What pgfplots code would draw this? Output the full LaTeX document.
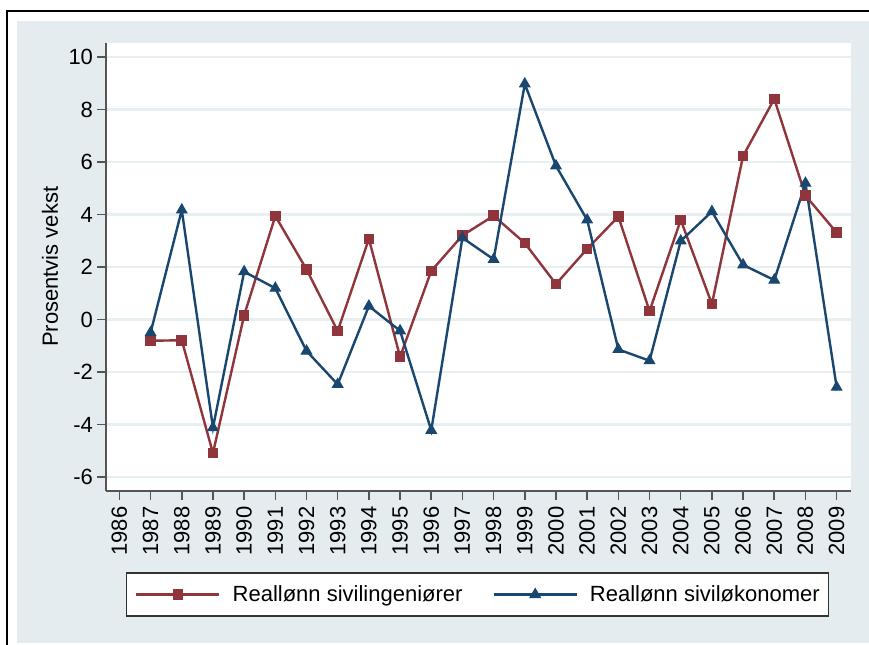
\documentclass[border=0pt]{standalone}
\usepackage{fontspec}
\setmainfont{Liberation Sans}
\usepackage{pgfplots}
\usepackage{pgfplotstable}
\pgfplotsset{compat=1.18}
\definecolor{stmaroon}{RGB}{144,53,59}
\definecolor{stnavy}{RGB}{26,71,111}
\definecolor{stbg}{RGB}{229,236,240}
\definecolor{stgrid}{RGB}{231,239,242}
\definecolor{staxis}{RGB}{85,85,85}

% yearly growth in real wages (percent)
\pgfplotstableread{
year  ing    oek
1987 -0.81  -0.50
1988 -0.79   4.17
1989 -5.09  -4.12
1990  0.16   1.82
1991  3.94   1.19
1992  1.91  -1.20
1993 -0.44  -2.47
1994  3.07   0.51
1995 -1.42  -0.43
1996  1.85  -4.22
1997  3.20   3.11
1998  3.95   2.29
1999  2.91   8.97
2000  1.35   5.85
2001  2.69   3.79
2002  3.92  -1.14
2003  0.32  -1.57
2004  3.79   2.99
2005  0.59   4.11
2006  6.23   2.08
2007  8.40   1.50
2008  4.72   5.19
2009  3.31  -2.58
}\growth

\begin{document}
\begin{tikzpicture}
\useasboundingbox (0,0) rectangle (434.5bp,322.5bp);
\fill[white] (0,0) rectangle (434.5bp,322.5bp);
\fill[stbg] (8.5bp,1bp) rectangle (434.5bp,312bp);
\draw[black,line width=1.2bp] (3.5bp,0) -- (3.5bp,317bp) -- (434.5bp,317bp);
\begin{axis}[
  scale only axis,
  width=372.5bp, height=223.85bp,
  at={(53bp,77.15bp)}, anchor=south west,
  xmin=1985.57, xmax=2009.46,
  ymin=-6.52, ymax=10.53,
  axis lines*=left,
  axis line style={staxis, line width=0.8bp},
  axis background/.style={fill=white},
  xtick={1986,...,2009},
  ytick={-6,-4,...,10},
  x tick label style={rotate=90, anchor=east},
  y tick label style={xshift=1.5bp},
  /pgf/number format/1000 sep={},
  /pgf/number format/assume math mode=true,
  tick align=outside,
  major tick length=4.5bp,
  tick style={staxis, line width=0.8bp},
  ymajorgrids,
  grid style={stgrid, line width=1.2bp},
  font=\fontsize{11bp}{13bp}\selectfont,
  tick label style={font=\fontsize{11bp}{13bp}\selectfont},
  ylabel={Prosentvis vekst},
  ylabel style={at={(axis description cs:-0.075,0.5)}, anchor=center},
  legend columns=2,
  legend style={
    at={(axis description cs:0.4987,-0.2319)}, anchor=center,
    draw=black!80, line width=0.6bp, fill=white,
    inner xsep=4.5bp, inner ysep=4bp,
    nodes={inner xsep=0bp},
    font=\fontsize{11bp}{13bp}\selectfont,
    /tikz/every odd column/.append style={column sep=6bp},
    /tikz/every even column/.append style={column sep=15bp},
  },
  legend image code/.code={
    \draw[mark repeat=2,mark phase=2,#1]
      plot coordinates {(0bp,0bp) (20.75bp,0bp) (41.5bp,0bp)};
  },
]
\addplot[stmaroon, line width=1.2bp, mark=square*, mark size=2.4bp,
  mark options={solid, fill=stmaroon, line width=0.5bp}]
  table[x=year, y=ing] {\growth};
\addlegendentry{Reallønn sivilingeniører}
\addplot[stnavy, line width=1.2bp, mark=triangle*, mark size=3bp,
  mark options={solid, fill=stnavy, line width=0.5bp}]
  table[x=year, y=oek] {\growth};
\addlegendentry{Reallønn siviløkonomer}
\end{axis}
\end{tikzpicture}
\end{document}
